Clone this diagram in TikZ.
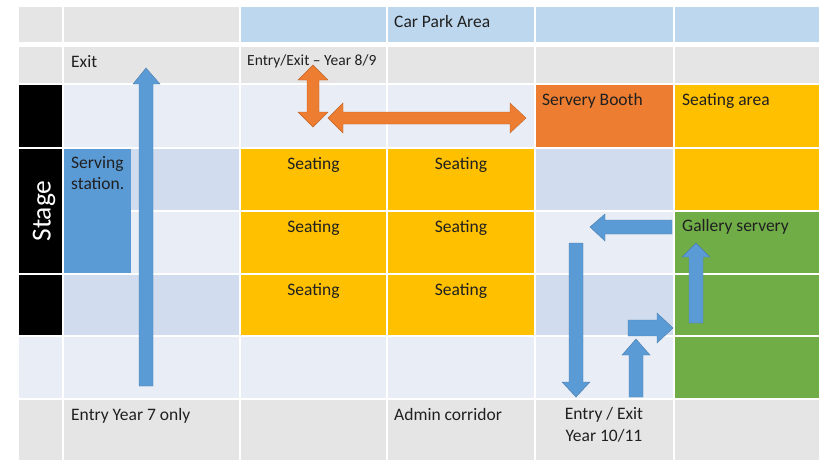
\documentclass[tikz,border=0pt]{standalone}
\usepackage{fontspec}
\setmainfont{Carlito}
\definecolor{hgray}{HTML}{E5E5E5}
\definecolor{hblue}{HTML}{BDD7EE}
\definecolor{bandL}{HTML}{E9EDF6}
\definecolor{bandD}{HTML}{D1DDEF}
\definecolor{seatY}{HTML}{FFC000}
\definecolor{boothO}{HTML}{ED7D31}
\definecolor{galG}{HTML}{70AD47}
\definecolor{arrB}{HTML}{5B9BD5}
\definecolor{txt}{HTML}{202020}
\newcommand\cellfill[5]{\fill[#5] ({#1+0.6},{#2+0.6}) rectangle ({#3-0.6},{#4-0.6});}
\tikzset{
  lbl/.style={anchor=base west, inner sep=0pt, text=txt, font=\fontsize{17.5}{21}\selectfont},
  clbl/.style={anchor=base, inner sep=0pt, text=txt, font=\fontsize{17.5}{21}\selectfont, align=center},
  barrow/.style={fill=arrB, draw=arrB!80!black, line width=0.4pt},
  oarrow/.style={fill=boothO, draw=boothO!80!black, line width=0.4pt},
}
\begin{document}
\begin{tikzpicture}[x=1pt,y=-1pt]
\useasboundingbox (0,0) rectangle (819,459);
\fill[white] (0,0) rectangle (819,459);
% row 1
\cellfill{18}{6}{63}{43}{hgray}
\cellfill{63}{6}{240}{43}{hgray}
\cellfill{240}{6}{387}{43}{hblue}
\cellfill{387}{6}{535}{43}{hblue}
\cellfill{535}{6}{674}{43}{hblue}
\cellfill{674}{6}{822}{43}{hblue}
% row 2
\cellfill{18}{46}{63}{84}{hgray}
\cellfill{63}{46}{240}{84}{hgray}
\cellfill{240}{46}{387}{84}{hgray}
\cellfill{387}{46}{535}{84}{hgray}
\cellfill{535}{46}{674}{84}{hgray}
\cellfill{674}{46}{822}{84}{hgray}
% row 3
\cellfill{18}{84}{63}{148}{black}
\cellfill{63}{84}{240}{148}{bandL}
\cellfill{240}{84}{387}{148}{bandL}
\cellfill{387}{84}{535}{148}{bandL}
\cellfill{535}{84}{674}{148}{boothO}
\cellfill{674}{84}{822}{148}{seatY}
% row 4
\cellfill{18}{148}{63}{274}{black}
\cellfill{63}{148}{240}{211}{bandD}
\cellfill{240}{148}{387}{211}{seatY}
\cellfill{387}{148}{535}{211}{seatY}
\cellfill{535}{148}{674}{211}{bandD}
\cellfill{674}{148}{822}{211}{seatY}
% row 5
\cellfill{63}{211}{240}{274}{bandL}
\cellfill{240}{211}{387}{274}{seatY}
\cellfill{387}{211}{535}{274}{seatY}
\cellfill{535}{211}{674}{274}{bandL}
\cellfill{674}{211}{822}{274}{galG}
% row 6
\cellfill{18}{274}{63}{336}{black}
\cellfill{63}{274}{240}{336}{bandD}
\cellfill{240}{274}{387}{336}{seatY}
\cellfill{387}{274}{535}{336}{seatY}
\cellfill{535}{274}{674}{336}{bandD}
\cellfill{674}{274}{822}{336}{galG}
% row 7
\cellfill{18}{336}{63}{399}{bandL}
\cellfill{63}{336}{240}{399}{bandL}
\cellfill{240}{336}{387}{399}{bandL}
\cellfill{387}{336}{535}{399}{bandL}
\cellfill{535}{336}{674}{399}{bandL}
\cellfill{674}{336}{822}{399}{galG}
% row 8
\cellfill{18}{399}{63}{462}{hgray}
\cellfill{63}{399}{240}{462}{hgray}
\cellfill{240}{399}{387}{462}{hgray}
\cellfill{387}{399}{535}{462}{hgray}
\cellfill{535}{399}{674}{462}{hgray}
\cellfill{674}{399}{822}{462}{hgray}
% serving station
\fill[arrB] (63.6,148.6) rectangle (131,273);
% texts
\node[lbl] (carpark) at (394,27) {Car Park Area};
\node[lbl] (exit) at (71,67) {Exit};
\node[lbl, font=\fontsize{15.5}{19}\selectfont] (entry89) at (247,65) {Entry/Exit – Year 8/9};
\node[lbl] (booth) at (542,105) {Servery Booth};
\node[lbl] (seatarea) at (682,105) {Seating area};
\node[lbl, anchor=north west, align=left] (serving) at (71,156) {Serving\\station.};
\node[clbl] (s1) at (313.5,169) {Seating};
\node[clbl] (s2) at (461,169) {Seating};
\node[clbl] (s3) at (313.5,232) {Seating};
\node[clbl] (s4) at (461,232) {Seating};
\node[clbl] (s5) at (313.5,295) {Seating};
\node[clbl] (s6) at (461,295) {Seating};
\node[lbl] (gallery) at (682,231) {Gallery servery};
\node[lbl] (entry7) at (71,420) {Entry Year 7 only};
\node[lbl] (admin) at (394,420) {Admin corridor};
\node[clbl, anchor=north, font=\fontsize{17.5}{22.5}\selectfont] (entry1011) at (604,407) {Entry / Exit\\Year 10/11};
\node[rotate=90, text=white, inner sep=0pt, font=\fontsize{27.5}{30}\selectfont] (stage) at (44,211) {Stage};
% arrows
\path[barrow] (139,386) -- (139,84) -- (133,84) -- (146,68) -- (160,84) -- (153,84) -- (153,386) -- cycle;
\path[oarrow] (307,80) -- (298,80) -- (313,65) -- (328,80) -- (319,80) -- (319,112) -- (328,112) -- (313,127) -- (298,112) -- (307,112) -- cycle;
\path[oarrow] (343,112) -- (343,103) -- (328,118) -- (343,133) -- (343,124) -- (510,124) -- (510,133) -- (526,118) -- (510,103) -- (510,112) -- cycle;
\path[barrow] (672,220) -- (605,220) -- (605,214) -- (590,227) -- (605,241) -- (605,234) -- (672,234) -- cycle;
\path[barrow] (569,243) -- (569,382) -- (562,382) -- (576,397) -- (590,382) -- (583,382) -- (583,243) -- cycle;
\path[barrow] (689,323) -- (689,257) -- (682,257) -- (696,243) -- (710,257) -- (703,257) -- (703,323) -- cycle;
\path[barrow] (629,397) -- (629,355) -- (622,355) -- (636,339) -- (650,355) -- (643,355) -- (643,397) -- cycle;
\path[barrow] (628,320) -- (657,320) -- (657,313) -- (673,328) -- (657,343) -- (657,336) -- (628,336) -- cycle;
\end{tikzpicture}
\end{document}
